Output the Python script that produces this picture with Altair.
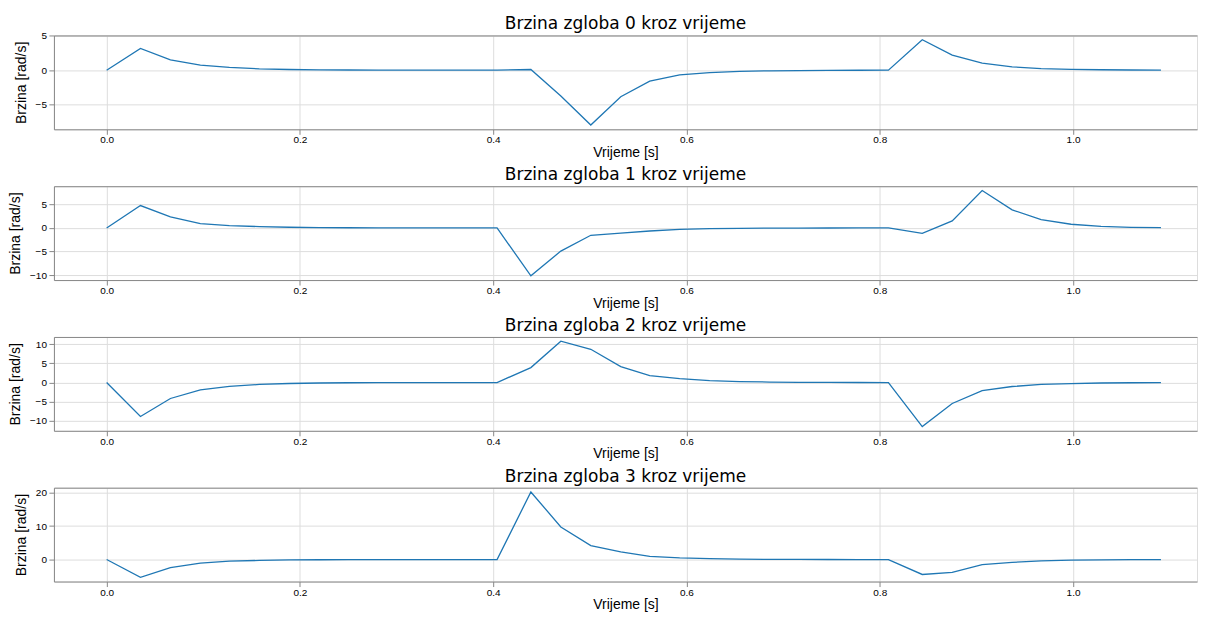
import altair as alt
import pandas as pd

# time axis (s)
time_s = [0.000, 0.035, 0.066, 0.097, 0.127, 0.158, 0.189, 0.220, 0.250, 0.281,
          0.312, 0.343, 0.374, 0.404, 0.439, 0.470, 0.501, 0.532, 0.562, 0.593,
          0.624, 0.655, 0.686, 0.716, 0.747, 0.778, 0.809, 0.844, 0.875, 0.906,
          0.937, 0.967, 0.998, 1.029, 1.060, 1.091]

joint0 = [0.0, 3.16, 1.50, 0.73, 0.40, 0.20, 0.10, 0.05, 0.03, 0.02,
          0.01, 0.0, 0.0, 0.0, 0.10, -3.74, -7.96, -3.85, -1.60, -0.68,
          -0.35, -0.17, -0.09, -0.05, -0.03, -0.01, 0.0, 4.42, 2.18, 1.02,
          0.49, 0.24, 0.12, 0.06, 0.03, 0.01]

joint1 = [0.0, 4.75, 2.34, 0.92, 0.50, 0.28, 0.15, 0.08, 0.04, 0.02,
          0.01, 0.0, 0.0, 0.0, -10.14, -4.90, -1.56, -1.10, -0.65, -0.30,
          -0.15, -0.08, -0.04, -0.02, -0.01, 0.0, 0.0, -1.13, 1.49, 7.94,
          3.83, 1.77, 0.78, 0.35, 0.14, 0.07]

joint2 = [0.0, -8.87, -4.17, -1.91, -1.00, -0.50, -0.25, -0.12, -0.06, -0.03,
          -0.01, 0.0, 0.0, 0.0, 3.91, 10.80, 8.70, 4.17, 1.83, 1.04,
          0.52, 0.26, 0.13, 0.06, 0.03, 0.01, 0.0, -11.50, -5.48, -2.09,
          -1.04, -0.50, -0.26, -0.12, -0.06, -0.02]

joint3 = [0.0, -5.30, -2.39, -1.09, -0.50, -0.25, -0.12, -0.06, -0.03, -0.01,
          0.0, 0.0, 0.0, 0.0, 20.20, 9.75, 4.18, 2.30, 0.95, 0.50,
          0.25, 0.12, 0.06, 0.03, 0.01, 0.0, 0.0, -4.46, -3.86, -1.49,
          -0.85, -0.42, -0.20, -0.10, -0.05, -0.02]

series = [joint0, joint1, joint2, joint3]
titles = ["Brzina zgloba 0 kroz vrijeme", "Brzina zgloba 1 kroz vrijeme",
          "Brzina zgloba 2 kroz vrijeme", "Brzina zgloba 3 kroz vrijeme"]
y_ticks = [[-5, 0, 5], [-10, -5, 0, 5], [-10, -5, 0, 5, 10], [0, 10, 20]]
x_ticks = [0.0, 0.2, 0.4, 0.6, 0.8, 1.0]
x_label = "Vrijeme [s]"
y_label = "Brzina [rad/s]"

FONT = "DejaVu Sans"
PLOT_W = 1145
PLOT_H = 94
tmax = max(time_s)
x_lo = -0.05 * tmax
x_hi = x_lo + PLOT_W / 968.0   # visible part of the axis (reference is cut at the right)
xscale = alt.Scale(domain=[x_lo, x_hi], nice=False, zero=False)

FRAME = "#333333"
# the first panel's top tick label reaches above the frame, so its title sits closer
title_offsets = [-2, 2, 2, 2]


def panel(vals, title, yt, toff):
    df = pd.DataFrame({"t": time_s, "v": vals})
    lo, hi = min(vals), max(vals)
    r = hi - lo
    yscale = alt.Scale(domain=[lo - 0.05 * r, hi + 0.05 * r], nice=False, zero=False)
    line = alt.Chart(df).mark_line(color="#1f77b4", strokeWidth=1.3, clip=True).encode(
        x=alt.X("t:Q", scale=xscale,
                axis=alt.Axis(values=x_ticks, format=".1f", title=x_label,
                              titleFontWeight="normal", titleFontSize=14,
                              labelPadding=0.5, titlePadding=0.5)),
        y=alt.Y("v:Q", scale=yscale,
                axis=alt.Axis(values=yt, format="d", title=y_label,
                              titleFontWeight="normal", titleFontSize=14,
                              labelPadding=2.5, titlePadding=7,
                              labelOverlap=False)),
    )
    top = alt.Chart(df).mark_rule(opacity=0).encode(
        x=alt.X("t:Q", scale=xscale,
                axis=alt.Axis(orient="top", labels=False, ticks=False, grid=False,
                              domain=True, title=None)),
    )
    return alt.layer(line, top).resolve_axis(x="independent").properties(
        width=PLOT_W, height=PLOT_H,
        title=alt.TitleParams(text=title, fontSize=17, font=FONT, frame="group",
                              fontWeight="normal", color="#000", offset=toff))


chart = alt.vconcat(*[panel(s, t, yt, o) for s, t, yt, o in
                      zip(series, titles, y_ticks, title_offsets)],
                    spacing=5).properties(
    padding={"left": 0, "top": 5, "right": 0, "bottom": 0}
).configure_axis(
    labelFont=FONT, labelFontSize=7.5, labelColor="#333",
    titleFont=FONT, titleColor="#000",
    grid=True, gridColor="#bdbdbd", gridWidth=0.8,
    domain=True, domainColor=FRAME, domainWidth=1,
    tickColor=FRAME, tickSize=3.5,
).configure_view(strokeWidth=0).configure(background="white")

chart.save("out.html", embed_options={"renderer": "svg", "actions": False})
